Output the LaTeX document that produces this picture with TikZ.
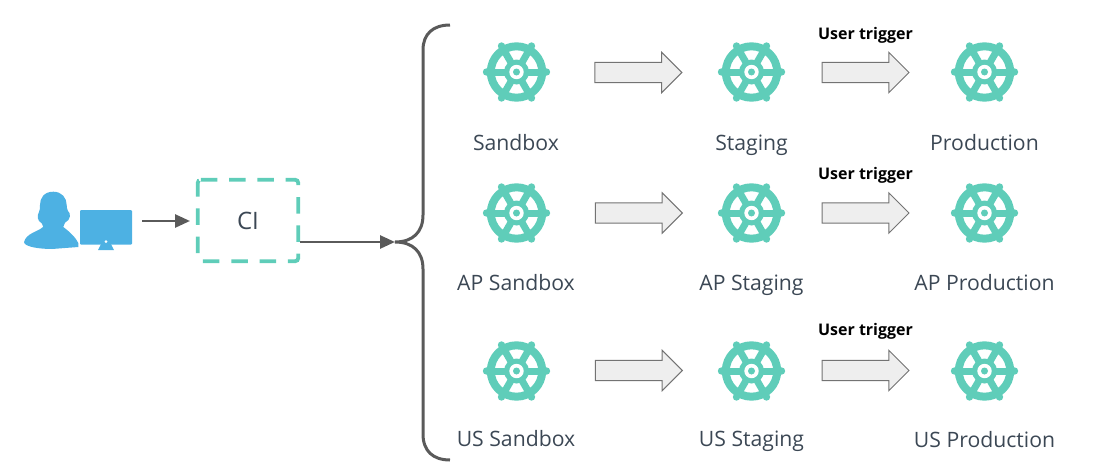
\documentclass[tikz,border=0pt]{standalone}
\usepackage{fontspec}
\setmainfont{Open Sans}
\usetikzlibrary{arrows.meta,shapes.arrows}
\definecolor{teal}{HTML}{5FCDB9}
\definecolor{iconblue}{HTML}{4DB1E3}
\definecolor{linegray}{HTML}{5A5A5A}
\definecolor{labelc}{HTML}{3B4754}
\definecolor{arrowfill}{HTML}{EEEEEE}
\tikzset{
  lbl/.style={text=labelc,font=\fontsize{21.2pt}{24pt}\selectfont,inner sep=0pt,anchor=base},
  trig/.style={text=black,font=\fontsize{16pt}{18pt}\selectfont\bfseries,inner sep=0pt,anchor=base},
  blockarrow/.style={single arrow,draw=linegray!85,fill=arrowfill,line width=1pt,minimum height=87pt,minimum width=39.5pt,
    single arrow head extend=10pt,single arrow tip angle=90,inner xsep=0pt,inner ysep=9.7pt,outer sep=0pt,anchor=tail},
  flow/.style={draw=linegray,line width=2.7pt,-{Triangle[length=15pt,width=13pt]}},
  brace/.style={draw=linegray,line width=3pt},
  cibox/.style={minimum width=100pt,minimum height=81pt,inner sep=0pt,
    text=labelc,font=\fontsize{24pt}{26pt}\selectfont},
  ciborder/.style={draw=teal,line width=3.8pt,dash pattern=on 16.5pt off 11.8pt,rounded corners=3pt},
  wheel/.pic={
    \draw[teal,line width=8pt] (0,0) circle[radius=25.7];
    \foreach \a in {0,60,120,180,240,300}{
      \draw[teal,line width=7pt] (0,0) -- (\a:29);
      \fill[teal] (\a:30) circle[radius=3.7];
    }
    \fill[teal] (0,0) circle[radius=12.5];
    \fill[white] (0,0) circle[radius=7.2];
    \fill[teal] (0,0) circle[radius=3.5];
  }
}
\begin{document}
\begin{tikzpicture}[x=1pt,y=-1pt]
\useasboundingbox (0,0) rectangle (1098,474);
% user icon
\fill[iconblue] (53.3,191.7) .. controls (44,191.7) and (40,198) .. (40,205)
  .. controls (40,208) and (40,210) .. (39,212)
  .. controls (36.5,216) and (37.5,221) .. (41.7,223.3) -- (43.3,226.7)
  .. controls (38,232) and (26,233) .. (24,242.3)
  .. controls (25,247) and (40,249) .. (52,249) -- (78.3,247) -- (78.3,243)
  .. controls (76,238) and (70,232) .. (63.3,227) -- (65,222.7)
  .. controls (71,220) and (71,213) .. (68,211)
  .. controls (67,209) and (66.7,207) .. (66.7,205)
  .. controls (66.7,198) and (62,191.7) .. (53.3,191.7) -- cycle;
\fill[iconblue,rounded corners=1pt] (80,210) rectangle (132,244.5);
\fill[iconblue] (101,244) -- (111,244) -- (114,250) -- (98,250) -- cycle;
\fill[white] (106,241.7) circle[radius=1.5];
\coordinate (user) at (142,221);
% CI
\node[cibox] (ci) at (248,220.5) {CI};
\draw[ciborder] (ci.north west) -- (ci.north east) -- (ci.south east) -- (ci.south west) -- cycle;
\coordinate (cibr) at (300,242);
\coordinate (citarget) at (190,221);
\coordinate (fork) at (395,242);
\draw[flow] (user) -- (citarget);
% brace
\draw[brace] (450,25) .. controls (433,25) and (423,34) .. (423,50) -- (423,215)
  .. controls (423,232) and (413,242) .. (fork)
  .. controls (413,242) and (423,252) .. (423,269) -- (423,434)
  .. controls (423,451) and (433,460) .. (450,460);
\draw[flow] (cibr) -- (fork);
% wheels
\foreach \n/\x/\y in {a/516.5/72,b/751.5/72,c/984.5/72,d/516.5/213,e/751.5/213,f/984.5/213,g/516.5/371,h/751.5/371,i/984.5/371}{
  \pic (w\n) at (\x,\y) {wheel};
}
% block arrows
\node[blockarrow] (a1) at (594.8,72.5) {};
\node[blockarrow] (a2) at (822,72.5) {};
\node[blockarrow] (a3) at (595.3,213) {};
\node[blockarrow] (a4) at (822,213) {};
\node[blockarrow] (a5) at (595.3,370.5) {};
\node[blockarrow] (a6) at (822,370.5) {};
% labels
\node[lbl] (l1) at (516,150) {Sandbox};
\node[lbl] (l2) at (751.5,150) {Staging};
\node[lbl] (l3) at (984.5,150) {Production};
\node[lbl] (l4) at (516,290) {AP Sandbox};
\node[lbl] (l5) at (751.5,290) {AP Staging};
\node[lbl] (l6) at (984.5,290) {AP Production};
\node[lbl] (l7) at (516,446) {US Sandbox};
\node[lbl] (l8) at (751.5,446) {US Staging};
\node[lbl] (l9) at (984.5,447) {US Production};
\node[trig] (t1) at (865.5,39) {User trigger};
\node[trig] (t2) at (865.5,179) {User trigger};
\node[trig] (t3) at (865.5,335) {User trigger};
\end{tikzpicture}
\end{document}
